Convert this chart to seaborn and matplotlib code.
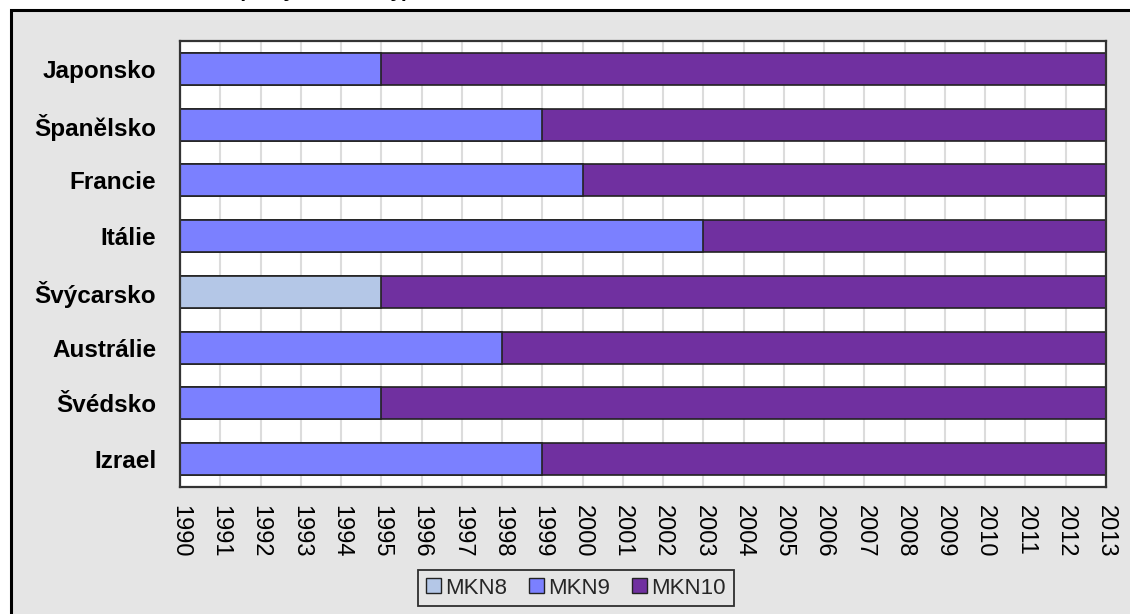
import matplotlib
matplotlib.use("Agg")
import matplotlib.pyplot as plt
from matplotlib.patches import Rectangle, Patch
import pandas as pd
import seaborn as sns

# Countries and the year each switched to MKN10
countries = ["Japonsko", "Španělsko", "Francie", "Itálie",
             "Švýcarsko", "Austrálie", "Švédsko", "Izrael"]
prior_class = ["MKN9", "MKN9", "MKN9", "MKN9", "MKN8", "MKN9", "MKN9", "MKN9"]
mkn10_from = [1995, 1999, 2000, 2003, 1995, 1998, 1995, 1999]
first_year = 1990
last_year = 2013
years = list(range(first_year, last_year + 1))

classes = ["MKN8", "MKN9", "MKN10"]
colors = {"MKN8": "#B4C7E7", "MKN9": "#7B80FF", "MKN10": "#7030A0"}

df_full = pd.DataFrame({"zeme": countries, "rok": [last_year] * len(countries),
                        "klasifikace": ["MKN10"] * len(countries)})
df_prior = pd.DataFrame({"zeme": countries, "rok": mkn10_from,
                         "klasifikace": prior_class})

sns.set_theme(style="white")
plt.rcParams["font.family"] = ["Liberation Sans", "DejaVu Sans"]

fig = plt.figure(figsize=(11.30, 6.14), dpi=100, facecolor="white")

# grey chart panel behind everything
fig.add_artist(Rectangle((11 / 1130, -0.2), 1.2, 1.2 - 10.5 / 614,
                         transform=fig.transFigure, facecolor="#E5E5E5",
                         edgecolor="black", linewidth=2.2, zorder=-10))
fig.text(238 / 1130, 1 + 3.5 / 614, "(A, vybrané roky)", fontsize=15, fontweight="bold",
         va="baseline", ha="left", color="black")

ax = fig.add_axes([180 / 1130, 1 - 487 / 614, (1106 - 180) / 1130, (487 - 41) / 614])
ax.set_facecolor("white")

bar_kw = dict(orient="h", width=0.575, dodge=False, edgecolor="#222222",
              linewidth=1.2, saturation=1, legend=False, zorder=3)
sns.barplot(data=df_full, y="zeme", x="rok", hue="klasifikace",
            palette=colors, order=countries, ax=ax, **bar_kw)
sns.barplot(data=df_prior, y="zeme", x="rok", hue="klasifikace",
            palette=colors, order=countries, ax=ax, **bar_kw)

ax.set_xlim(first_year, last_year)
ax.set_ylim(len(countries) - 0.5, -0.5)
ax.set_xticks(years)
ax.set_xticklabels([str(y) for y in years], rotation=-90, fontsize=17)
ax.tick_params(axis="x", length=0, pad=13, colors="black")
ax.tick_params(axis="y", length=0, pad=17)
for lbl in ax.get_yticklabels():
    lbl.set_fontweight("bold")
    lbl.set_fontsize(17.5)
    lbl.set_color("black")
ax.set_xlabel("")
ax.set_ylabel("")
ax.xaxis.grid(True, color="#DCDCDC", linewidth=1.5, zorder=0)
ax.yaxis.grid(False)
ax.set_axisbelow(True)
for s in ax.spines.values():
    s.set_color("#333333")
    s.set_linewidth(1.6)
    s.set_zorder(5)

handles = [Patch(facecolor=colors[c], edgecolor="#222222", linewidth=1.0, label=c)
           for c in classes]
leg = fig.legend(handles=handles, loc="center", ncol=3,
                 bbox_to_anchor=(576 / 1130, 1 - 588 / 614), fontsize=16,
                 frameon=True, fancybox=False, handlelength=0.65, handleheight=0.65,
                 handletextpad=0.2, columnspacing=1.0, borderpad=0.35)
leg.get_frame().set_edgecolor("black")
leg.get_frame().set_linewidth(1.3)
leg.get_frame().set_facecolor("#E5E5E5")

fig.savefig("out.png", dpi=100, facecolor="white")
